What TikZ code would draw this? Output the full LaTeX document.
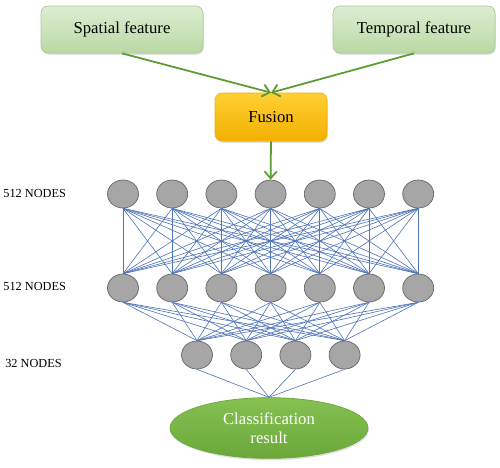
\documentclass[tikz,border=0pt]{standalone}
\usepackage{fontspec}
\setmainfont{Liberation Serif}
\usetikzlibrary{arrows.meta,shapes.geometric,shadows,positioning}
\definecolor{featuretop}{HTML}{DDEED2}
\definecolor{featurebot}{HTML}{B9D9A4}
\definecolor{featureline}{HTML}{A9C99A}
\definecolor{fusiontop}{HTML}{FFCF33}
\definecolor{fusionbot}{HTML}{F2B000}
\definecolor{resulttop}{HTML}{86C152}
\definecolor{resultbot}{HTML}{6AA83A}
\definecolor{neurongray}{HTML}{A6A6A6}
\definecolor{linkblue}{HTML}{4F74B8}
\definecolor{flowgreen}{HTML}{5B9B33}

\begin{document}
\begin{tikzpicture}[>={Straight Barb[length=4pt,width=7pt]}, x=0.02cm, y=-0.02cm,
  feature/.style={draw=featureline, rounded corners=4pt, top color=featuretop,
    bottom color=featurebot, minimum width=3.24cm, minimum height=0.94cm,
    font=\fontsize{9.5}{11}\selectfont, drop shadow={opacity=.25,shadow xshift=.5pt,shadow yshift=-1pt}},
  fusionbox/.style={draw=fusionbot, rounded corners=4pt, top color=fusiontop,
    bottom color=fusionbot, minimum width=2.24cm, minimum height=0.96cm,
    font=\fontsize{9.5}{11}\selectfont, drop shadow={opacity=.25,shadow xshift=.5pt,shadow yshift=-1pt}},
  neuron/.style={ellipse, draw=gray!80!black, fill=neurongray, line width=.4pt,
    minimum width=.62cm, minimum height=.56cm, inner sep=0pt},
  result/.style={ellipse, top color=resulttop, bottom color=resultbot, draw=resultbot,
    minimum width=3.96cm, minimum height=1.18cm, text=white, align=center,
    font=\fontsize{9.5}{11}\selectfont, drop shadow={opacity=.25,shadow xshift=.5pt,shadow yshift=-1pt}},
  layer/.style={anchor=west, inner sep=0pt, font=\fontsize{7}{8}\selectfont},
  link/.style={draw=linkblue, line width=.35pt},
  flow/.style={->, draw=flowgreen, line width=1pt}]
\useasboundingbox (0,0) rectangle (500,467);

% inputs
\node[feature] (spatial) at (122,29.5) {Spatial feature};
\node[feature] (temporal) at (414,29.5) {Temporal feature};
\node[fusionbox] (fusion) at (271,117) {Fusion};

% layers
\foreach \i in {1,...,7}
{
    \node[neuron] (a\i) at ({123+49.2*(\i-1)},194) {};
    \node[neuron] (b\i) at ({123+49.2*(\i-1)},288) {};
}
\foreach \i in {1,...,4}
    \node[neuron] (c\i) at ({197+49.2*(\i-1)},355) {};
\node[result] (result) at (269,428) {Classification\\result};

\node[layer] (la) at (3,193) {512 NODES};
\node[layer] (lb) at (3,286) {512 NODES};
\node[layer] (lc) at (5,363) {32 NODES};

% connections
\foreach \i in {1,...,7}
{
    \foreach \j in {1,...,7}
        \draw[link] (a\i.south) -- (b\j.north);
    \foreach \j in {1,...,4}
        \draw[link] (b\i.south) -- (c\j.north);
}
\foreach \j in {1,...,4}
    \draw[link] (c\j.south) -- (result.north);

\draw[flow] (spatial.south) -- (fusion.north);
\draw[flow] (temporal.south) -- (fusion.north);
\draw[flow] (fusion.south) -- (a4.north);

\end{tikzpicture}
\end{document}
